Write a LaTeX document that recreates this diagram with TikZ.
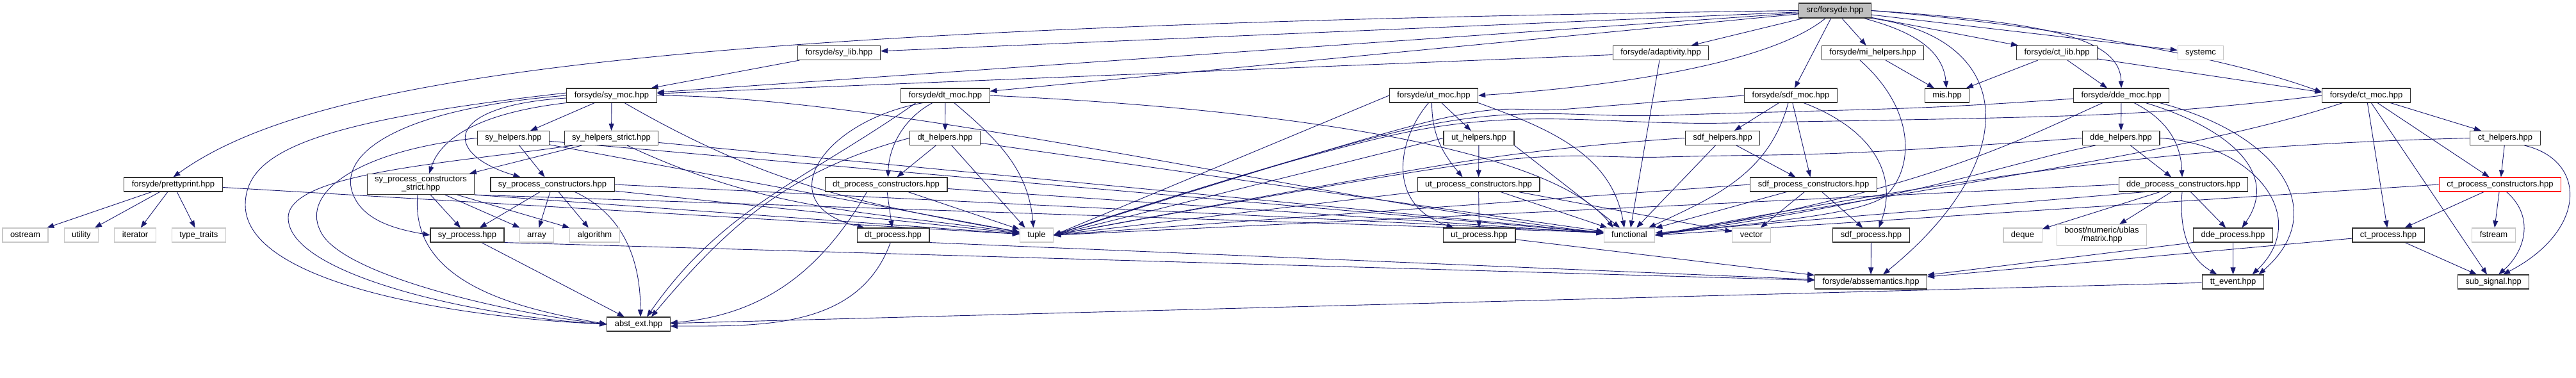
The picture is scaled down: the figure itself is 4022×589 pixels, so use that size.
\documentclass[tikz,border=0pt]{standalone}
\usepackage{fontspec}
\setsansfont{Liberation Sans}
\usepackage{tikz}
\usetikzlibrary{
  arrows.meta,
  positioning,
  backgrounds
}
\usepackage{xcolor}
\definecolor{dgEdge}{HTML}{191970}
\definecolor{dgBorder}{HTML}{333333}
\definecolor{dgGray}{HTML}{BFBFBF}
\definecolor{dgLightGray}{HTML}{C8C8C8}
\definecolor{dgRed}{HTML}{FF0000}
\tikzset{
  % Header file of the project
  filenode/.style={
    rectangle,
    draw=dgBorder,
    fill=white,
    line width=1.1pt,
    minimum height=22pt,
    inner xsep=12pt,
    inner ysep=0pt,
    text height=9.5pt,
    text depth=2.8pt,
    font=\sffamily\fontsize{13}{13}\selectfont,
    text=black
  },
  % File the graph is drawn for
  rootnode/.style={
    filenode,
    fill=dgGray,
    minimum height=23pt
  },
  % System and library headers
  sysnode/.style={
    filenode,
    draw=dgLightGray
  },
  % Node whose includes were cut off
  cutnode/.style={
    filenode,
    draw=dgRed
  },
  % Label set on two lines
  twoline/.style={
    align=center,
    inner ysep=4pt,
    text height={},
    text depth={}
  },
  % Include arrow
  incflow/.style={
    -{Triangle[length=11pt, width=8pt]},
    line width=0.9pt,
    dgEdge
  }
}

\begin{document}
\begin{tikzpicture}[x=1pt, y=-1pt]
\useasboundingbox (0,0) rectangle (4022,589);

%% === Root ===
\node[rootnode] (root) at (2865,16.5) {src/forsyde.hpp};

%% === Top-level includes ===
\node[filenode] (sy_lib) at (1310,82.5) {forsyde/sy\_lib.hpp};
\node[filenode] (adapt) at (2593,82.5) {forsyde/adaptivity.hpp};
\node[filenode] (mi_help) at (2924,82.5) {forsyde/mi\_helpers.hpp};
\node[filenode] (ct_lib) at (3211.5,82.5) {forsyde/ct\_lib.hpp};
\node[sysnode] (systemc) at (3436,82.5) {systemc};

%% === MoC headers ===
\node[filenode] (sy_moc) at (955,149) {forsyde/sy\_moc.hpp};
\node[filenode] (dt_moc) at (1476,149) {forsyde/dt\_moc.hpp};
\node[filenode] (ut_moc) at (2238.5,149) {forsyde/ut\_moc.hpp};
\node[filenode] (sdf_moc) at (2796,149) {forsyde/sdf\_moc.hpp};
\node[filenode] (mis) at (3040,149) {mis.hpp};
\node[filenode] (dde_moc) at (3312,149) {forsyde/dde\_moc.hpp};
\node[filenode] (ct_moc) at (3694.5,149) {forsyde/ct\_moc.hpp};

%% === Helpers ===
\node[filenode] (sy_help) at (801.5,215.5) {sy\_helpers.hpp};
\node[filenode] (sy_hstrict) at (954.5,215.5) {sy\_helpers\_strict.hpp};
\node[filenode] (dt_help) at (1475.5,215.5) {dt\_helpers.hpp};
\node[filenode] (ut_help) at (2309,215.5) {ut\_helpers.hpp};
\node[filenode] (sdf_help) at (2689.5,215.5) {sdf\_helpers.hpp};
\node[filenode] (dde_help) at (3311.5,215.5) {dde\_helpers.hpp};
\node[filenode] (ct_help) at (3911.5,215.5) {ct\_helpers.hpp};

%% === Process constructors ===
\node[filenode] (pretty) at (270.5,288) {forsyde/prettyprint.hpp};
\node[filenode, twoline] (sy_pcs) at (657,287.5) {sy\_process\_constructors\\\_strict.hpp};
\node[filenode] (sy_pc) at (862.5,288) {sy\_process\_constructors.hpp};
\node[filenode] (dt_pc) at (1383.5,288) {dt\_process\_constructors.hpp};
\node[filenode] (ut_pc) at (2308.5,288) {ut\_process\_constructors.hpp};
\node[filenode] (sdf_pc) at (2831.5,288) {sdf\_process\_constructors.hpp};
\node[filenode] (dde_pc) at (3409,288) {dde\_process\_constructors.hpp};
\node[cutnode] (ct_pc) at (3903.5,288) {ct\_process\_constructors.hpp};

%% === Processes and standard headers ===
\node[sysnode] (ostream) at (39.5,367) {ostream};
\node[sysnode, right=24pt of ostream] (utility) {utility};
\node[sysnode, right=24pt of utility] (iterator) {iterator};
\node[sysnode, right=24pt of iterator] (type_traits) {type\_traits};
\node[filenode] (sy_proc) at (729.5,367) {sy\_process.hpp};
\node[sysnode, right=23pt of sy_proc] (array) {array};
\node[sysnode, right=24pt of array] (algorithm) {algorithm};
\node[filenode] (dt_proc) at (1394.5,367) {dt\_process.hpp};
\node[sysnode] (tuple) at (1618.5,367) {tuple};
\node[filenode] (ut_proc) at (2309.5,367) {ut\_process.hpp};
\node[sysnode] (functional) at (2544,367) {functional};
\node[sysnode] (vector) at (2734.5,367) {vector};
\node[filenode] (sdf_proc) at (2921.5,367) {sdf\_process.hpp};
\node[sysnode] (deque) at (3158,367) {deque};
\node[sysnode, twoline] (matrix) at (3281.5,367) {boost/numeric/ublas\\/matrix.hpp};
\node[filenode] (dde_proc) at (3486.5,367) {dde\_process.hpp};
\node[filenode] (ct_proc) at (3729,367) {ct\_process.hpp};
\node[sysnode] (fstream) at (3893.5,367) {fstream};

%% === Bottom row ===
\node[filenode] (abst_ext) at (997,506) {abst\_ext.hpp};
\node[filenode] (abssem) at (2921,440) {forsyde/abssemantics.hpp};
\node[filenode] (tt_event) at (3486.5,440) {tt\_event.hpp};
\node[filenode] (sub_signal) at (3893,440) {sub\_signal.hpp};

%% === Include edges ===
\begin{scope}[on background layer]
  % src/forsyde.hpp
  \draw[incflow] (root.west) .. controls (1100,40) and (500,110) .. (pretty.north);
  \draw[incflow] (root) -- (sy_lib);
  \draw[incflow] (root) -- (sy_moc);
  \draw[incflow] (root) -- (dt_moc);
  \draw[incflow] (root) .. controls (2750,110) and (2450,140) .. (ut_moc.east);
  \draw[incflow] (root) -- (adapt);
  \draw[incflow] (root) -- (sdf_moc);
  \draw[incflow] (root) -- (mi_help);
  \draw[incflow] (root) to[out=-15, in=95] (mis);
  \draw[incflow] (root.south east) .. controls (3150,60) and (3160,250) .. ([xshift=19pt]abssem.north);
  \draw[incflow] (root) -- (ct_lib);
  \draw[incflow] (root.east) .. controls (3200,35) and (3310,60) .. (dde_moc.north);
  \draw[incflow] (root.east) .. controls (3150,35) and (3450,80) .. ([yshift=5pt]ct_moc.west);
  \draw[incflow] (root) -- (systemc);

  % forsyde/prettyprint.hpp
  \draw[incflow] (pretty) -- (ostream);
  \draw[incflow] (pretty) -- (utility);
  \draw[incflow] (pretty) -- (iterator);
  \draw[incflow] (pretty) -- (type_traits);
  \draw[incflow] (pretty) -- (tuple);

  % forsyde/sy_lib.hpp, forsyde/adaptivity.hpp
  \draw[incflow] (sy_lib) -- (sy_moc);
  \draw[incflow] (adapt) -- (sy_moc);
  \draw[incflow] (adapt) -- (functional);

  % forsyde/sy_moc.hpp
  \draw[incflow] (sy_moc) -- (sy_help);
  \draw[incflow] (sy_moc) -- (sy_hstrict);
  \draw[incflow] ([yshift=-4pt]sy_moc.west) .. controls (690,165) and (690,240) .. ([xshift=-50pt]sy_pc.north);
  \draw[incflow] (sy_moc.south west) .. controls (760,175) and (690,210) .. ([xshift=13pt]sy_pcs.north);
  \draw[incflow] (sy_moc.west) .. controls (620,170) and (530,240) .. (550,300) .. controls (565,345) and (620,358) .. (sy_proc.west);
  \draw[incflow] ([yshift=4pt]sy_moc.west) .. controls (480,190) and (383,240) .. (383,320) .. controls (383,440) and (700,495) .. (abst_ext.west);
  \draw[incflow] (sy_moc) to[out=-30, in=170] (tuple);
  \draw[incflow] (sy_moc.east) .. controls (1400,150) and (2100,320) .. ([yshift=4pt]functional.west);

  % sy_helpers.hpp
  \draw[incflow] (sy_help) -- ([xshift=-12pt]sy_pc.north);
  \draw[incflow] (sy_help.west) .. controls (560,235) and (470,300) .. (500,360) .. controls (530,430) and (800,490) .. (abst_ext.west);
  \draw[incflow] (sy_help) -- (tuple);
  \draw[incflow] (sy_help) -- (functional);

  % sy_helpers_strict.hpp
  \draw[incflow] (sy_hstrict) -- ([xshift=76pt]sy_pcs.north);
  \draw[incflow] ([xshift=-60pt]sy_hstrict.south) .. controls (700,255) and (450,270) .. (450,340) .. controls (450,430) and (750,495) .. (abst_ext.west);
  \draw[incflow] (sy_hstrict) to[out=-25, in=172] (tuple);
  \draw[incflow] (sy_hstrict) -- (functional);

  % sy_process_constructors.hpp
  \draw[incflow] (sy_pc) -- (sy_proc);
  \draw[incflow] (sy_pc) -- (array);
  \draw[incflow] (sy_pc) -- (algorithm);
  \draw[incflow] ([xshift=35pt]sy_pc.south) to[out=-25, in=90] ([xshift=3pt]abst_ext.north);
  \draw[incflow] (sy_pc) -- (tuple);
  \draw[incflow] (sy_pc.east) -- ([yshift=4pt]functional.west);

  % sy_process_constructors_strict.hpp
  \draw[incflow] (sy_pcs) -- (sy_proc);
  \draw[incflow] (sy_pcs) -- (array);
  \draw[incflow] (sy_pcs) -- (algorithm);
  \draw[incflow] ([xshift=-5pt]sy_pcs.south) to[out=-95, in=170] (abst_ext.west);
  \draw[incflow] (sy_pcs.south east) -- (tuple);
  \draw[incflow] (sy_pcs.south east) -- ([yshift=4pt]functional.west);

  % sy_process.hpp
  \draw[incflow] (sy_proc) -- (abst_ext);
  \draw[incflow] (sy_proc.south east) -- (abssem);

  % forsyde/dt_moc.hpp
  \draw[incflow] (dt_moc) -- (dt_help);
  \draw[incflow] ([xshift=-20pt]dt_moc.south) .. controls (1410,185) and (1388,230) .. ([xshift=3pt]dt_pc.north);
  \draw[incflow] ([xshift=-35pt]dt_moc.south) .. controls (1280,190) and (1200,320) .. ([xshift=-45pt]dt_proc.north);
  \draw[incflow] ([xshift=-46pt]dt_moc.south) to[out=-145, in=55] ([xshift=13pt]abst_ext.north);
  \draw[incflow] (dt_moc) to[out=-40, in=95] ([xshift=-5pt]tuple.north);
  \draw[incflow] (dt_moc.east) .. controls (2000,170) and (2420,230) .. ([xshift=-25pt]functional.north);

  % dt_helpers.hpp
  \draw[incflow] (dt_help) -- ([xshift=17pt]dt_pc.north);
  \draw[incflow] (dt_help.west) to[out=195, in=50] ([xshift=20pt]abst_ext.north);
  \draw[incflow] (dt_help) -- ([xshift=-18pt]tuple.north);
  \draw[incflow] (dt_help) -- (functional);

  % dt_process_constructors.hpp
  \draw[incflow] (dt_pc) -- (dt_proc);
  \draw[incflow] ([xshift=-30pt]dt_pc.south) to[out=-120, in=5] ([yshift=2pt]abst_ext.east);
  \draw[incflow] (dt_pc) -- (tuple);
  \draw[incflow] (dt_pc) -- (functional);

  % dt_process.hpp
  \draw[incflow] (dt_proc) to[out=-110, in=0] ([yshift=-3pt]abst_ext.east);
  \draw[incflow] (dt_proc.south east) -- (abssem);

  % forsyde/ut_moc.hpp
  \draw[incflow] (ut_moc) -- (ut_help);
  \draw[incflow] ([xshift=-3pt]ut_moc.south) to[out=-90, in=130] ([xshift=-25pt]ut_pc.north);
  \draw[incflow] ([xshift=-8pt]ut_moc.south) .. controls (2180,220) and (2165,320) .. ([xshift=-40pt]ut_proc.north);
  \draw[incflow] (ut_moc.west) -- (tuple.east);
  \draw[incflow] (ut_moc.south east) to[out=-20, in=100] ([xshift=-8pt]functional.north);

  % ut_helpers.hpp
  \draw[incflow] (ut_help) -- (ut_pc);
  \draw[incflow] (ut_help.west) -- (tuple.east);
  \draw[incflow] (ut_help.south east) -- (functional);

  % ut_process_constructors.hpp
  \draw[incflow] (ut_pc) -- (ut_proc);
  \draw[incflow] (ut_pc) -- (tuple.east);
  \draw[incflow] (ut_pc) -- (functional);
  \draw[incflow] (ut_pc) -- (vector);

  % ut_process.hpp
  \draw[incflow] (ut_proc) -- (abssem);

  % forsyde/sdf_moc.hpp
  \draw[incflow] (sdf_moc) -- (sdf_help);
  \draw[incflow] (sdf_moc) -- ([xshift=-5pt]sdf_pc.north);
  \draw[incflow] ([xshift=20pt]sdf_moc.south) .. controls (2920,200) and (2965,270) .. ([xshift=12pt]sdf_proc.north);
  \draw[incflow] plot[smooth, tension=0.6] coordinates {(sdf_moc.west) (2450,170) (2230,190) (tuple.east)};
  \draw[incflow] ([xshift=-4pt]sdf_moc.south) to[out=-105, in=25] ([xshift=30pt]functional.north);

  % sdf_helpers.hpp
  \draw[incflow] (sdf_help) -- ([xshift=-28pt]sdf_pc.north);
  \draw[incflow] plot[smooth, tension=0.6] coordinates {(sdf_help.west) (2300,250) (tuple.east)};
  \draw[incflow] (sdf_help) -- (functional);

  % sdf_process_constructors.hpp
  \draw[incflow] (sdf_pc) -- (sdf_proc);
  \draw[incflow] (sdf_pc) -- (vector);
  \draw[incflow] (sdf_pc.west) -- (tuple.east);
  \draw[incflow] (sdf_pc) -- (functional);

  % sdf_process.hpp
  \draw[incflow] (sdf_proc) -- (abssem);

  % forsyde/mi_helpers.hpp
  \draw[incflow] (mi_help) -- (mis);
  \draw[incflow] ([xshift=-20pt]mi_help.south) .. controls (2990,170) and (2990,260) .. (2945,305) .. controls (2900,340) and (2700,350) .. (functional.east);

  % forsyde/ct_lib.hpp
  \draw[incflow] (ct_lib) -- (mis);
  \draw[incflow] (ct_lib) -- ([xshift=-22pt]dde_moc.north);
  \draw[incflow] (ct_lib) -- ([yshift=5pt]ct_moc.west);

  % forsyde/dde_moc.hpp
  \draw[incflow] (dde_moc) -- (dde_help);
  \draw[incflow] ([xshift=20pt]dde_moc.south) .. controls (3390,190) and (3405,230) .. ([xshift=-2pt]dde_pc.north);
  \draw[incflow] ([xshift=38pt]dde_moc.south) .. controls (3480,200) and (3560,270) .. ([xshift=14pt]dde_proc.north);
  \draw[incflow] ([xshift=60pt]dde_moc.south) .. controls (3560,210) and (3640,330) .. ([xshift=40pt]tt_event.north);
  \draw[incflow] plot[smooth, tension=0.6] coordinates {([yshift=-5pt]dde_moc.west) (3000,168) (2600,180) (2230,195) (tuple.east)};
  \draw[incflow] ([xshift=-29pt]dde_moc.south) .. controls (3150,220) and (3000,300) .. (functional.east);

  % dde_helpers.hpp
  \draw[incflow] (dde_help) -- ([xshift=-19pt]dde_pc.north);
  \draw[incflow] (dde_help.east) .. controls (3520,225) and (3610,340) .. ([xshift=30pt]tt_event.north);
  \draw[incflow] plot[smooth, tension=0.6] coordinates {(dde_help.west) (2900,238) (2600,245) (2300,255) (tuple.east)};
  \draw[incflow] ([xshift=-40pt]dde_help.south) .. controls (3150,250) and (3000,310) .. (functional.east);

  % dde_process_constructors.hpp
  \draw[incflow] (dde_pc) -- (dde_proc);
  \draw[incflow] ([xshift=-2pt]dde_pc.south) to[out=-95, in=150] ([xshift=-25pt]tt_event.north);
  \draw[incflow] (dde_pc) -- (matrix);
  \draw[incflow] (dde_pc) -- (deque);
  \draw[incflow] (dde_pc.west) -- (tuple.east);
  \draw[incflow] ([xshift=-60pt]dde_pc.south) -- (functional);

  % dde_process.hpp, tt_event.hpp
  \draw[incflow] (dde_proc) -- (tt_event);
  \draw[incflow] (dde_proc.south west) -- (abssem);
  \draw[incflow] (tt_event) -- (abst_ext);

  % forsyde/ct_moc.hpp
  \draw[incflow] (ct_moc) -- (ct_help);
  \draw[incflow] (ct_moc) -- ([xshift=-17pt]ct_pc.north);
  \draw[incflow] (ct_moc) -- (ct_proc);
  \draw[incflow] (ct_moc) -- ([xshift=-10pt]sub_signal.north);
  \draw[incflow] plot[smooth, tension=0.6] coordinates {(ct_moc.west) (3300,178) (2700,192) (2230,200) (tuple.east)};
  \draw[incflow] ([xshift=-37pt]ct_moc.south) .. controls (3450,230) and (3100,280) .. (functional.east);

  % ct_helpers.hpp
  \draw[incflow] (ct_help) -- (ct_pc);
  \draw[incflow] ([xshift=30pt]ct_help.south) .. controls (4040,250) and (4040,360) .. ([xshift=15pt]sub_signal.north);
  \draw[incflow] (ct_help.west) .. controls (3500,225) and (3200,250) .. (functional.east);

  % ct_process_constructors.hpp
  \draw[incflow] (ct_pc) -- (ct_proc);
  \draw[incflow] (ct_pc) -- (fstream);
  \draw[incflow] ([xshift=10pt]ct_pc.south) .. controls (3960,340) and (3940,395) .. ([xshift=8pt]sub_signal.north);
  \draw[incflow] (ct_pc.west) -- (functional.east);

  % ct_process.hpp
  \draw[incflow] (ct_proc) -- (abssem);
  \draw[incflow] (ct_proc) -- (sub_signal);
\end{scope}

\end{tikzpicture}
\end{document}
